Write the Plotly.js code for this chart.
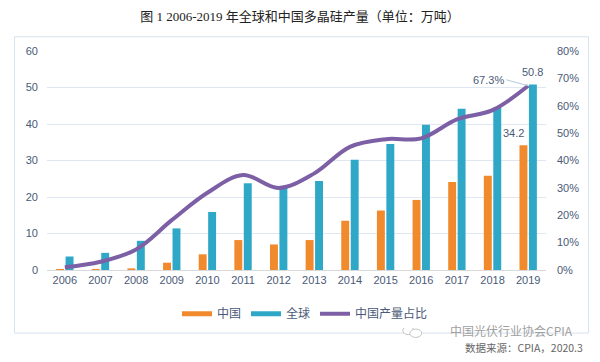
<!DOCTYPE html>
<html><head><meta charset="utf-8">
<script src="https://cdn.plot.ly/plotly-3.0.1.min.js"></script>
<style>html,body{margin:0;padding:0;background:#fff}#chart{width:600px;height:362px}</style>
</head><body><div id="chart"></div>
<script>
const years = [2006,2007,2008,2009,2010,2011,2012,2013,2014,2015,2016,2017,2018,2019];
const china = [0.3,0.3,0.45,2.0,4.3,8.2,7.0,8.2,13.5,16.3,19.2,24.1,25.8,34.2];
const world = [3.7,4.7,8.0,11.4,15.9,23.8,22.5,24.4,30.2,34.5,39.8,44.2,44.6,50.8];
const share = [1.0,3.0,7.5,18.2,28.2,34.7,30.0,35.3,45.0,47.8,48.1,55.0,58.4,67.3];
const seriesNames = ['中国','全球','中国产量占比'];
const seriesColors = ['#f08a2c','#2fa8c8','#7d5fa6'];
const titleText = '图 1 2006-2019 年全球和中国多晶硅产量（单位：万吨）';
const sourceLine1 = '中国光伏行业协会CPIA';
const sourceLine2 = '数据来源：CPIA，2020.3';
const last = years.length - 1;
const tickFont = {family:'Liberation Sans, Noto Sans CJK SC', size:11, color:'#4a5a78'};

const traces = [
  {type:'bar', name:seriesNames[0], x:years, y:china, marker:{color:seriesColors[0]}, yaxis:'y', showlegend:false},
  {type:'bar', name:seriesNames[1], x:years, y:world, marker:{color:seriesColors[1]}, yaxis:'y', showlegend:false},
  // legend-only entries so that the bar swatches are drawn as wide strips, like the reference
  {type:'scatter', mode:'lines', name:seriesNames[0], x:[null], y:[null], line:{color:seriesColors[0], width:5}, hoverinfo:'skip'},
  {type:'scatter', mode:'lines', name:seriesNames[1], x:[null], y:[null], line:{color:seriesColors[1], width:5}, hoverinfo:'skip'},
  {type:'scatter', mode:'lines', name:seriesNames[2], x:years, y:share.map(v=>v/100), yaxis:'y2',
   line:{color:seriesColors[2], width:4, shape:'spline', smoothing:1}}
];

const layout = {
  width:600, height:362,
  margin:{l:47, r:54, t:51, b:92},
  paper_bgcolor:'#fff', plot_bgcolor:'#fff',
  title:{text:titleText, x:0.5, xanchor:'center', y:0.955, yanchor:'middle',
         font:{family:'Liberation Serif, Noto Sans CJK SC', size:13, color:'#222'}},
  barmode:'group', bargap:0.47, bargroupgap:0.16,
  showlegend:true,
  legend:{orientation:'h', x:0.2605, xanchor:'left', y:-0.2, yanchor:'middle',
          font:{family:'Noto Sans CJK SC', size:12, color:'#4a5a78'}, traceorder:'normal'},
  xaxis:{type:'linear', range:[years[0]-0.5, years[last]+0.5], tickvals:years, ticktext:years.map(String),
         tickfont:tickFont, showgrid:false, showline:true, linecolor:'#d9d9d9', zeroline:false, ticks:''},
  yaxis:{range:[0,60], dtick:10, tickfont:tickFont, gridcolor:'#dfe8f2', zeroline:false,
         ticks:'', ticklabelstandoff:8},
  yaxis2:{range:[0,0.8], dtick:0.1, tickformat:'.0%', overlaying:'y', side:'right',
          tickfont:tickFont, showgrid:false, zeroline:false, ticks:'', ticklabelstandoff:10},
  annotations:[
    {x:years[last], y:share[last]/100, xref:'x', yref:'y2', text:share[last].toFixed(1)+'%', showarrow:true,
     ax:-22, ay:-6, arrowhead:0, arrowwidth:1, arrowcolor:'#b7c9dc', standoff:0,
     font:{family:'Liberation Sans', size:11, color:'#4a5a78'}, xanchor:'right'},
    {x:years[last], y:world[last], xref:'x', yref:'y', text:String(world[last]), showarrow:false,
     xshift:4, yanchor:'bottom', yshift:5, font:{family:'Liberation Sans', size:11, color:'#4a5a78'}},
    {x:years[last], y:china[last], xref:'x', yref:'y', text:String(china[last]), showarrow:false,
     xshift:-15, yanchor:'bottom', yshift:4, font:{family:'Liberation Sans', size:11, color:'#4a5a78'}},
    {xref:'paper', yref:'paper', x:1.058, y:-0.277, xanchor:'right', yanchor:'middle', showarrow:false,
     text:sourceLine1, font:{family:'Noto Sans CJK SC', size:12, color:'#a0a0a0'}},
    {xref:'paper', yref:'paper', x:1.078, y:-0.352, xanchor:'right', yanchor:'middle', showarrow:false,
     text:sourceLine2, font:{family:'Noto Sans CJK SC', size:10.5, color:'#666'}}
  ],
  shapes:[
    {type:'rect', xref:'paper', yref:'paper', x0:-0.065, x1:1.085, y0:-0.288, y1:1.065,
     line:{color:'#d5e2ee', width:1}, fillcolor:'rgba(0,0,0,0)', layer:'below'},
    {type:'circle', xref:'paper', yref:'paper', x0:0.713, x1:0.735, y0:-0.295, y1:-0.258,
     line:{color:'#c4c4c4', width:1}, fillcolor:'#fff'},
    {type:'circle', xref:'paper', yref:'paper', x0:0.727, x1:0.751, y0:-0.308, y1:-0.270,
     line:{color:'#c4c4c4', width:1}, fillcolor:'#fff'}
  ]
};
Plotly.newPlot('chart', traces, layout, {displayModeBar:false, staticPlot:true});
</script></body></html>
